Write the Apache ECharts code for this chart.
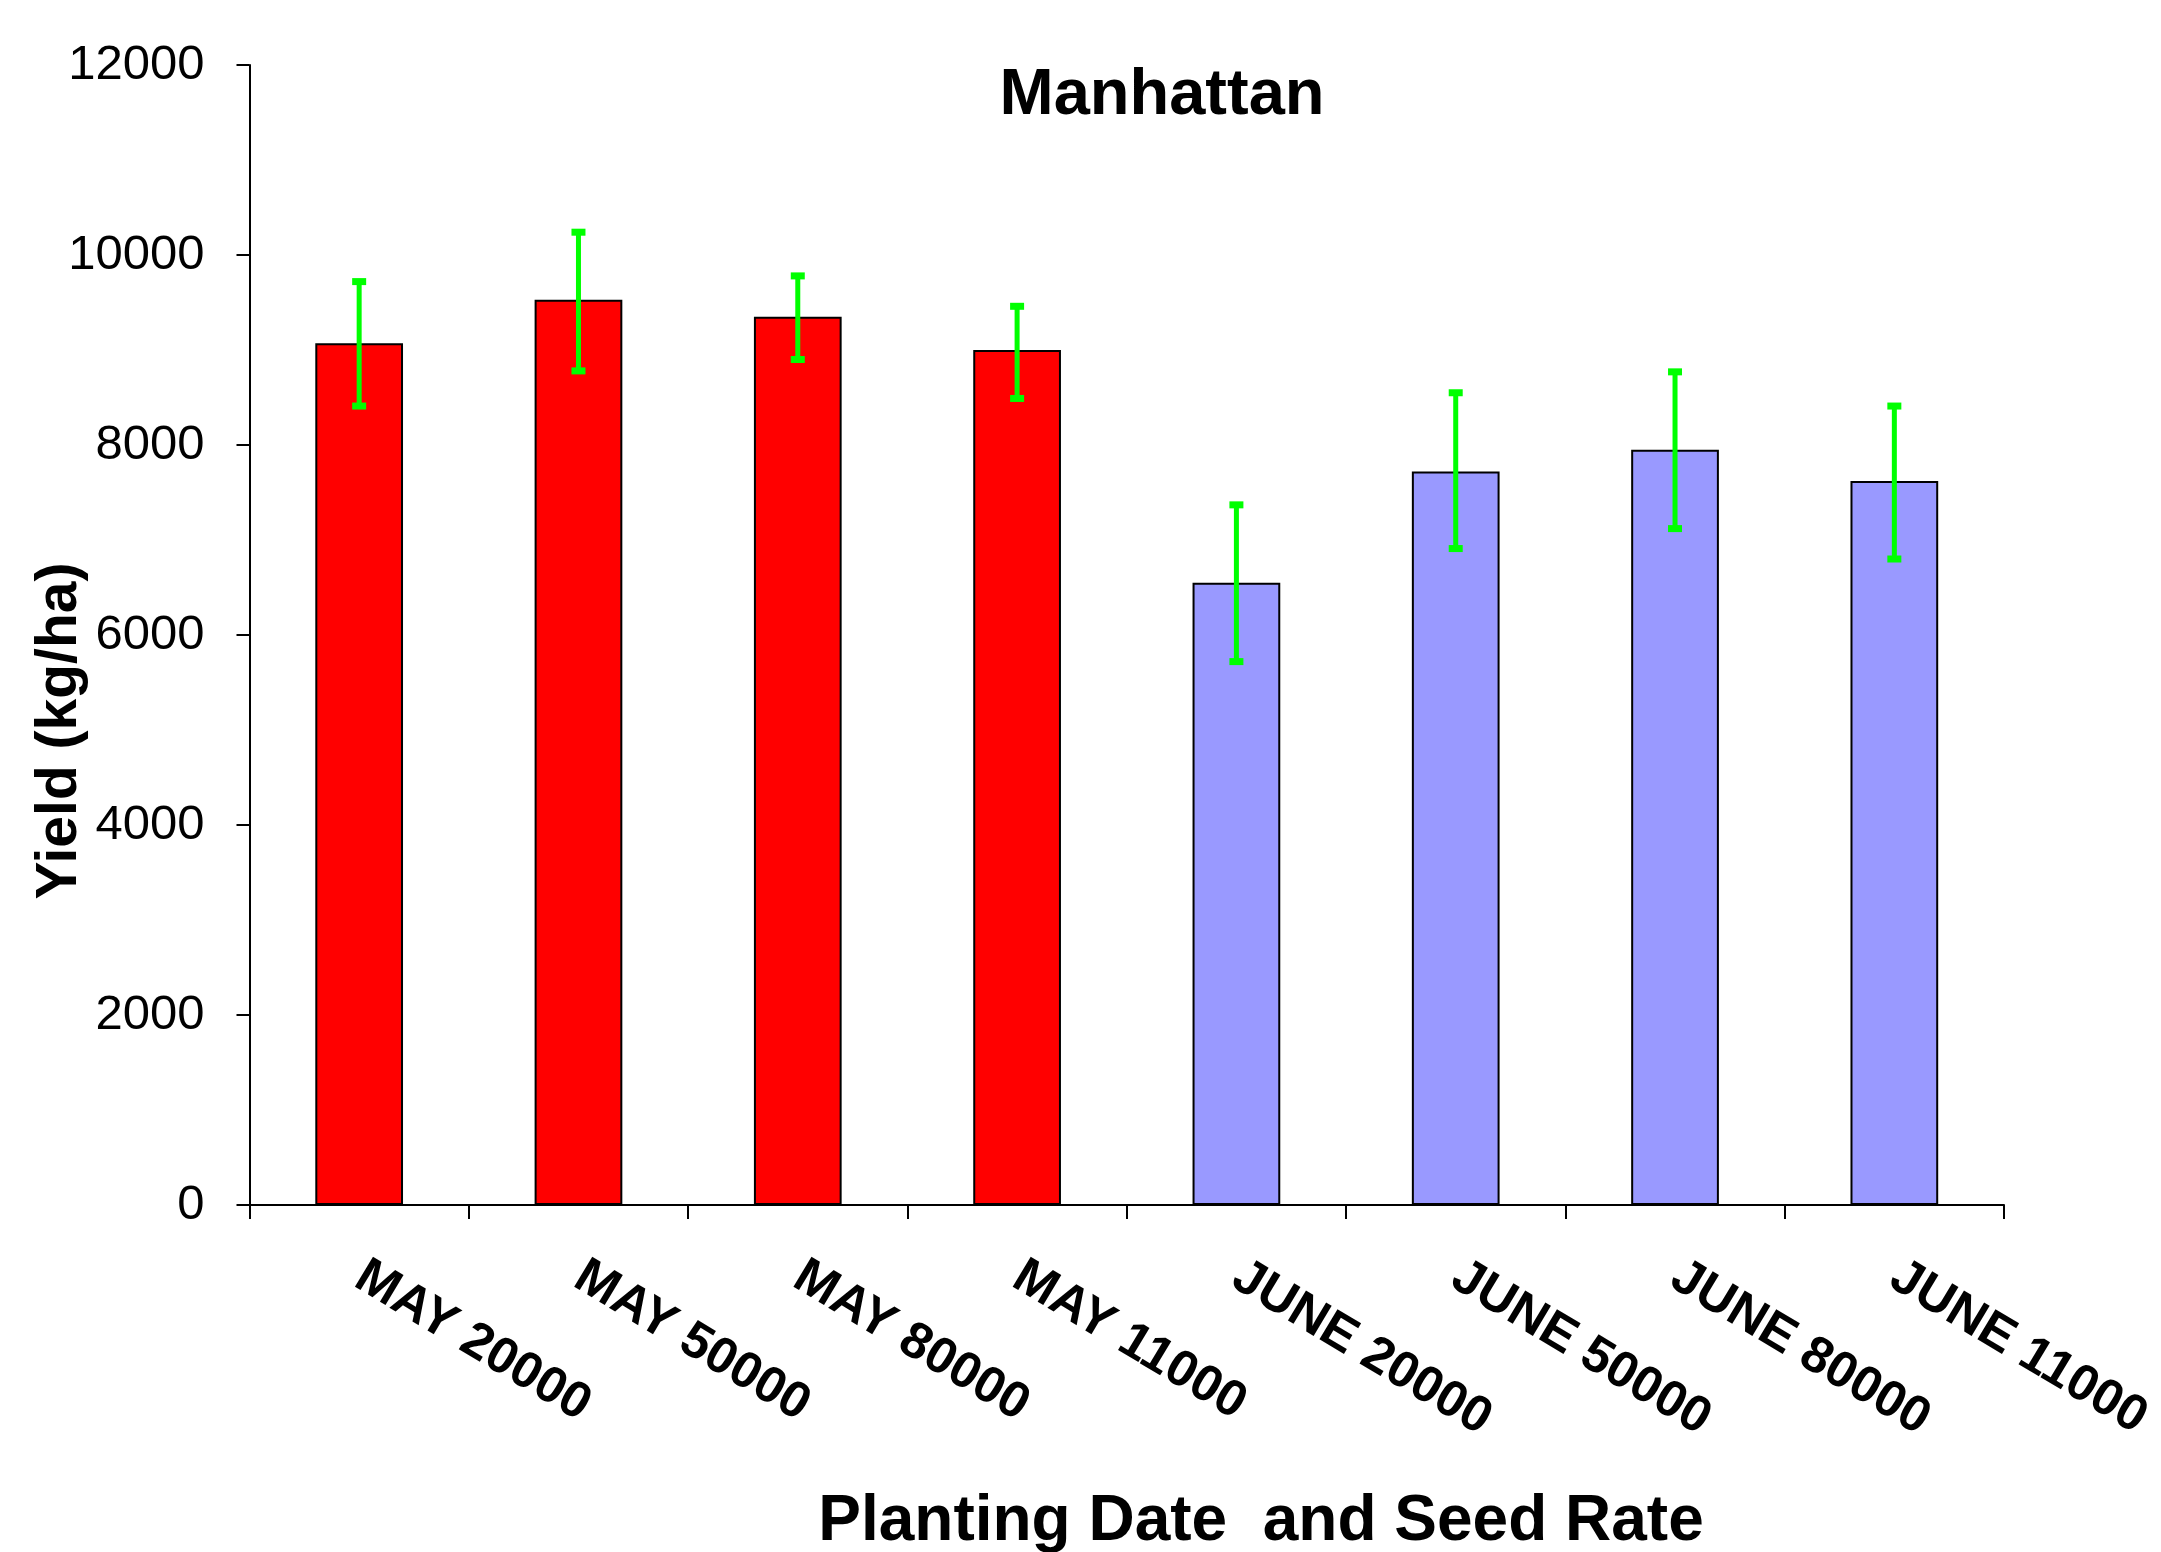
<!DOCTYPE html>
<html>
<head>
<meta charset="utf-8">
<script src="https://cdn.jsdelivr.net/npm/echarts@6/dist/echarts.min.js"></script>
<style>
html,body{margin:0;padding:0;background:#fff;}
#chart{width:2161px;height:1552px;}
</style>
</head>
<body>
<div id="chart"></div>
<script>
const categories = ['MAY 20000','MAY 50000','MAY 80000','MAY 11000','JUNE 20000','JUNE 50000','JUNE 80000','JUNE 11000'];
const yields = [9070, 9530, 9350, 9000, 6550, 7720, 7950, 7620];
const errHigh = [9720, 10240, 9780, 9460, 7370, 8550, 8770, 8410];
const errLow = [8410, 8780, 8900, 8490, 5720, 6910, 7120, 6800];
const yTicks = [0, 2000, 4000, 6000, 8000, 10000, 12000];
const titleText = 'Manhattan';
const xTitle = 'Planting Date  and Seed Rate';
const yTitle = 'Yield (kg/ha)';

const FONT = '"Liberation Sans", Arial, sans-serif';
const chart = echarts.init(document.getElementById('chart'), null, {renderer:'canvas'});

const barData = yields.map((v, i) => ({
  value: v,
  itemStyle: { color: categories[i].startsWith('MAY') ? '#FF0000' : '#9999FF' }
}));
const errData = categories.map((c, i) => [i, errLow[i], errHigh[i]]);

chart.setOption({
  animation: false,
  backgroundColor: '#fff',
  grid: { left: 249.5, right: 157, top: 65, bottom: 347, containLabel: false },
  xAxis: {
    type: 'category',
    data: categories,
    boundaryGap: true,
    axisLine: { show: true, lineStyle: { color: '#000', width: 2 } },
    axisTick: { show: true, length: 14, interval: 0, lineStyle: { color: '#000', width: 2 } },
    axisLabel: {
      interval: 0, rotate: -31, margin: 68,
      fontFamily: FONT, fontWeight: 'bold', fontSize: 51, color: '#000'
    },
    splitLine: { show: false }
  },
  yAxis: {
    type: 'value',
    min: yTicks[0], max: yTicks[yTicks.length - 1], interval: 2000,
    axisLine: { show: true, lineStyle: { color: '#000', width: 2 } },
    axisTick: { show: true, length: 13, lineStyle: { color: '#000', width: 2 } },
    axisLabel: { margin: 45, fontFamily: FONT, fontSize: 49, color: '#000', formatter: function (v) { return String(v); } },
    splitLine: { show: false }
  },
  series: [
    {
      type: 'bar',
      data: barData,
      barWidth: '40%',
      itemStyle: { borderColor: '#000', borderWidth: 2 }
    },
    {
      type: 'custom',
      data: errData,
      z: 10,
      renderItem: function (params, api) {
        const x = api.value(0);
        const lo = api.coord([x, api.value(1)]);
        const hi = api.coord([x, api.value(2)]);
        const hw = 7;
        const style = { stroke: '#00FF00', lineWidth: 5 };
        const cap = { stroke: '#00FF00', lineWidth: 7 };
        return {
          type: 'group',
          children: [
            { type: 'line', shape: { x1: hi[0], y1: hi[1], x2: lo[0], y2: lo[1] }, style: style },
            { type: 'line', shape: { x1: hi[0] - hw, y1: hi[1], x2: hi[0] + hw, y2: hi[1] }, style: cap },
            { type: 'line', shape: { x1: lo[0] - hw, y1: lo[1], x2: lo[0] + hw, y2: lo[1] }, style: cap }
          ]
        };
      }
    }
  ],
  graphic: [
    { type: 'text', x: 1162, y: 96, style: { text: titleText, fontFamily: FONT, fontWeight: 'bold', fontSize: 65, fill: '#000', textAlign: 'center', textVerticalAlign: 'middle' } },
    { type: 'text', x: 1261, y: 1522, style: { text: xTitle, fontFamily: FONT, fontWeight: 'bold', fontSize: 64, fill: '#000', textAlign: 'center', textVerticalAlign: 'middle' } },
    { type: 'text', x: 60, y: 731, rotation: Math.PI / 2, style: { text: yTitle, fontFamily: FONT, fontWeight: 'bold', fontSize: 57, fill: '#000', textAlign: 'center', textVerticalAlign: 'middle' } }
  ]
});
</script>
</body>
</html>
